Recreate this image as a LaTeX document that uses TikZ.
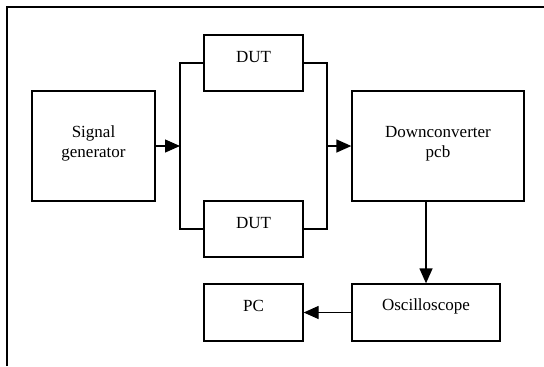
\documentclass[tikz,border=0pt]{standalone}
\usepackage{fontspec}
\setmainfont{Liberation Serif}
\usetikzlibrary{arrows.meta}
\begin{document}
\begin{tikzpicture}[x=1bp,y=-1bp,
  box/.style={draw, line width=1.3bp, inner sep=0pt, minimum width=#1},
  txt/.style={inner sep=0pt, align=center, font=\fontsize{17bp}{20.5bp}\selectfont},
  wire/.style={line width=1.3bp},
  arr/.style={line width=1.3bp, -{Triangle[length=15bp,width=13bp]}},
  frame/.style={line width=2bp}]
\useasboundingbox (0,0) rectangle (544,366);
\draw[frame] (7,366) -- (7,7) -- (544,7);
% boxes
\node[box=123bp, minimum height=110bp] (sg) at (93.5,146) {};
\node[box=99bp, minimum height=56bp] (dut1) at (253.5,63) {};
\node[box=99bp, minimum height=56bp] (dut2) at (253.5,229) {};
\node[box=172bp, minimum height=110bp] (dc) at (438,146) {};
\node[box=99bp, minimum height=57bp] (pc) at (253.5,312.5) {};
\node[box=148bp, minimum height=57bp] (osc) at (426,312.5) {};
% texts
\node[txt] (tsg) at (93.5,143.6) {Signal\\generator};
\node[txt, anchor=base] (tdut1) at (253.5,62.3) {DUT};
\node[txt, anchor=base] (tdut2) at (253.5,228.3) {DUT};
\node[txt] (tdc) at (438,143.6) {Downconverter\\pcb};
\node[txt, anchor=base] (tpc) at (253.5,311) {PC};
\node[txt, anchor=base] (tosc) at (426,310.7) {Oscilloscope};
% junctions
\coordinate (jL) at (180,146);
\coordinate (jR) at (327,146);
% connectors
\draw[wire] (dut1.west) -| (jL) |- (dut2.west);
\draw[wire] (dut1.east) -| (jR) |- (dut2.east);
\draw[arr] (sg.east) -- (jL);
\draw[arr] (jR) -- (dc.west);
\draw[arr] (dc.south -| osc.north) -- (osc.north);
\draw[arr] (osc.west) -- (pc.east);
\end{tikzpicture}
\end{document}
